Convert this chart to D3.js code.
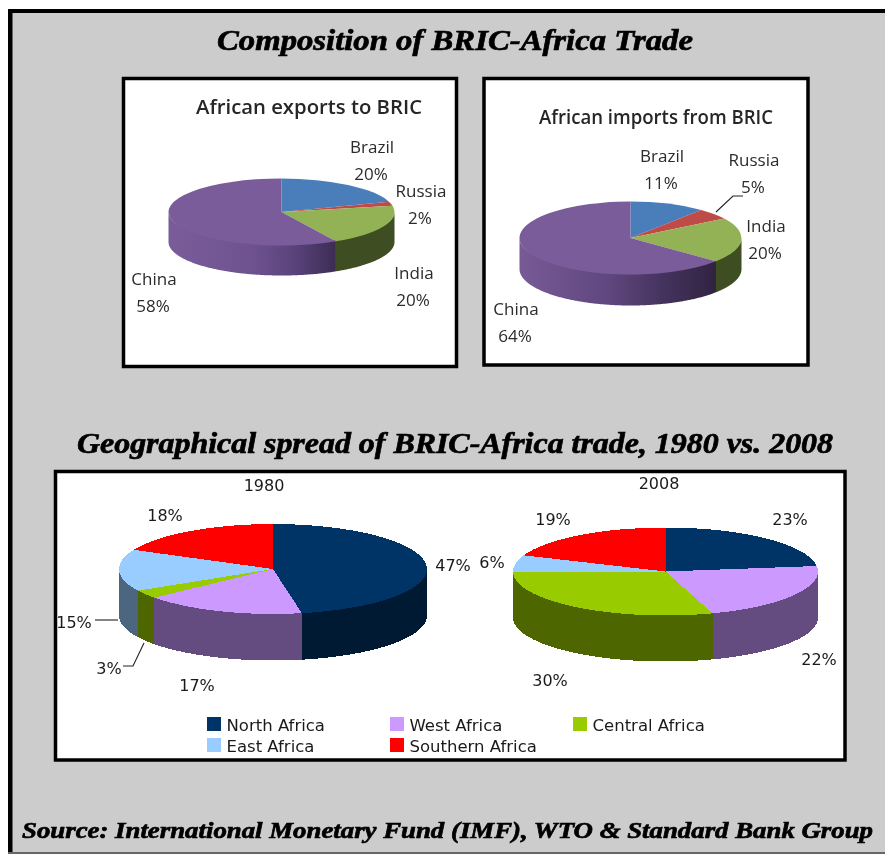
<!DOCTYPE html>
<html>
<head>
<meta charset="utf-8">
<script src="https://cdn.jsdelivr.net/npm/d3@7"></script>
<style>
html, body { margin: 0; padding: 0; background: #fff; }
svg { display: block; }
.heading { font-family: "Liberation Serif", serif; font-weight: bold; font-style: italic; fill: #000; stroke: #000; stroke-width: 0.7px; }
.top-label { font-family: "Open Sans", sans-serif; font-size: 17px; fill: #2b2b2b; text-anchor: middle; }
.top-title { font-family: "Open Sans", sans-serif; font-size: 20.5px; font-weight: 600; fill: #262626; }
.bottom-label { font-family: "DejaVu Sans", sans-serif; font-size: 16px; fill: #1a1a1a; text-anchor: middle; }
.legend-label { font-family: "DejaVu Sans", sans-serif; font-size: 16.5px; fill: #1a1a1a; }
.soft { filter: blur(0.45px); }
</style>
</head>
<body>
<div id="chart"></div>
<script>
// chart values
const bricNames = ["Brazil", "Russia", "India", "China"];
const exportShares = [20, 2, 20, 58];
const importShares = [11, 5, 20, 64];

const regionNames = ["North Africa", "West Africa", "Central Africa", "East Africa", "Southern Africa"];
const shares1980 = [47, 17, 3, 15, 18];
const shares2008 = [23, 22, 30, 6, 19];

// colours
const bricTop = ["#4A7EBB", "#BE4B48", "#93B255", "#7A5C9A"];
const bricSide = ["#2c4c70", "#72302e", "#3F4D22", "url(#GRAD)"];
const regionTop = ["#003366", "#CC99FF", "#99CC00", "#99CCFF", "#FF0000"];
const regionSide = ["#001A33", "#654C80", "#4D6600", "#4D6680", "#800000"];

const width = 885, height = 854;

const svg = d3.select("#chart").append("svg")
  .attr("width", width)
  .attr("height", height);

const defs = svg.append("defs");

/* page background and frames */
svg.append("rect").attr("x", 8).attr("y", 9).attr("width", width - 8).attr("height", height - 9).attr("fill", "#000");
svg.append("rect").attr("x", 12.5).attr("y", 13).attr("width", width - 12.5).attr("height", height - 15).attr("fill", "#CCCCCC");
svg.append("rect").attr("x", 8).attr("y", 852).attr("width", width - 8).attr("height", 2).attr("fill", "#666");

function box(x0, y0, x1, y1) {
  svg.append("rect")
    .attr("x", x0).attr("y", y0)
    .attr("width", x1 - x0).attr("height", y1 - y0)
    .attr("fill", "#fff").attr("stroke", "#000").attr("stroke-width", 3.5);
}
box(123.5, 78.5, 456.5, 366.5);
box(484, 78.5, 808, 365);
box(55.5, 471.5, 845, 760);

/* headings */
function heading(txt, x0, x1, y, size) {
  svg.append("text").attr("class", "heading soft")
    .attr("x", x0).attr("y", y)
    .attr("font-size", size + "px")
    .attr("textLength", x1 - x0)
    .attr("lengthAdjust", "spacingAndGlyphs")
    .text(txt);
}
heading("Composition of BRIC-Africa Trade", 217, 693, 50, 29);
heading("Geographical spread of BRIC-Africa trade, 1980 vs. 2008", 77, 833, 453, 29);
heading("Source: International Monetary Fund (IMF), WTO & Standard Bank Group", 22, 873, 838, 24);

/** Draw one 3D pie: side wall first, then the flat top */
function drawPie(values, tops, sides, o) {
  const g = svg.append("g")
    .attr("transform", "translate(" + o.cx + "," + o.cy + ")")
    .attr("shape-rendering", o.crisp ? "crispEdges" : "auto");

  const slices = d3.pie().sort(null).value(d => d)(values);

  // wall is visible only on the front half of the ellipse
  // its top edge tucks under the flat top so no white seam shows
  const wall = d3.area()
    .x(a => o.rx * Math.sin(a))
    .y0(a => -(o.ry - 1.5) * Math.cos(a))
    .y1(a => -o.ry * Math.cos(a) + o.depth);

  slices.forEach(function(s, i) {
    const a0 = Math.max(s.startAngle, Math.PI / 2);
    const a1 = Math.min(s.endAngle, 3 * Math.PI / 2);
    if (a1 <= a0) return;
    const angles = d3.range(a0, a1, 0.01).concat([a1]);
    g.append("path").attr("d", wall(angles)).attr("fill", sides[i]);
  });

  const arc = d3.arc().innerRadius(0).outerRadius(o.rx);
  g.append("g")
    .attr("transform", "scale(1," + (o.ry / o.rx) + ")")
    .selectAll("path").data(slices).enter().append("path")
    .attr("d", arc)
    .attr("fill", (d, i) => tops[i]);
}

/* gradients for the big purple walls */
function wallGradient(id, x0, x1, stops) {
  const lg = defs.append("linearGradient").attr("id", id)
    .attr("gradientUnits", "userSpaceOnUse")
    .attr("x1", x0).attr("x2", x1).attr("y1", 0).attr("y2", 0);
  stops.forEach(s => lg.append("stop").attr("offset", s[0]).attr("stop-color", s[1]));
}
wallGradient("wallExports", -113, 56, [[0, "#7A5C9A"], [0.5, "#6E5290"], [0.75, "#59427A"], [1, "#3B2C52"]]);
wallGradient("wallImports", -111, 86, [[0, "#775A96"], [0.45, "#60477F"], [0.75, "#43325C"], [1, "#30233F"]]);

drawPie(exportShares, bricTop, bricSide.map(c => c.replace("GRAD", "wallExports")),
  {cx: 281.5, cy: 212, rx: 113, ry: 33.5, depth: 30});
drawPie(importShares, bricTop, bricSide.map(c => c.replace("GRAD", "wallImports")),
  {cx: 630.5, cy: 238, rx: 111, ry: 36.5, depth: 31});
drawPie(shares1980, regionTop, regionSide,
  {cx: 273, cy: 569, rx: 154, ry: 45, depth: 46.5, crisp: true});
drawPie(shares2008, regionTop, regionSide,
  {cx: 665.5, cy: 571.5, rx: 152.5, ry: 44, depth: 46, crisp: true});

/* chart titles and labels */
function topTitle(txt, x0, x1, y) {
  svg.append("text").attr("class", "top-title soft")
    .attr("x", x0).attr("y", y)
    .attr("textLength", x1 - x0).attr("lengthAdjust", "spacingAndGlyphs")
    .text(txt);
}
topTitle("African exports to BRIC", 196, 422, 114);
topTitle("African imports from BRIC", 539, 773, 124);

function twoLine(name, value, x, y) {
  svg.append("text").attr("class", "top-label soft").attr("x", x).attr("y", y).text(name);
  svg.append("text").attr("class", "top-label soft").attr("x", x - 1).attr("y", y + 27).text(value + "%");
}
const exportLabelPos = [[372, 153], [421, 197], [414, 279], [154, 285]];
const importLabelPos = [[662, 162], [754, 166], [766, 232], [516, 315]];
bricNames.forEach(function(n, i) {
  twoLine(n, exportShares[i], exportLabelPos[i][0], exportLabelPos[i][1]);
  twoLine(n, importShares[i], importLabelPos[i][0], importLabelPos[i][1]);
});

function pctLabel(value, x, y) {
  svg.append("text").attr("class", "bottom-label soft").attr("x", x).attr("y", y).text(value + "%");
}
const pos1980 = [[453, 571], [197, 691], [109, 674], [74, 628], [165, 521]];
const pos2008 = [[790, 525], [819, 665], [550, 686], [492, 568], [553, 525]];
regionNames.forEach(function(n, i) {
  pctLabel(shares1980[i], pos1980[i][0], pos1980[i][1]);
  pctLabel(shares2008[i], pos2008[i][0], pos2008[i][1]);
});

svg.append("text").attr("class", "bottom-label soft").attr("x", 264).attr("y", 491).text("1980");
svg.append("text").attr("class", "bottom-label soft").attr("x", 659).attr("y", 489).text("2008");

/* leader lines */
const leader = d3.line();
[
  [[716, 212], [733, 196], [743, 196]],
  [[95, 620], [118, 620]],
  [[123, 666], [133, 666], [144, 643]]
].forEach(function(pts) {
  svg.append("path").attr("d", leader(pts))
    .attr("fill", "none").attr("stroke", "#222").attr("stroke-width", 1.1);
});

/* legend */
const legendPos = [[207, 731], [390, 731], [573, 731], [207, 752], [390, 752]];
regionNames.forEach(function(n, i) {
  svg.append("rect")
    .attr("x", legendPos[i][0]).attr("y", legendPos[i][1] - 14)
    .attr("width", 14).attr("height", 14)
    .attr("fill", regionTop[i]);
  svg.append("text").attr("class", "legend-label soft")
    .attr("x", legendPos[i][0] + 19.5).attr("y", legendPos[i][1])
    .text(n);
});
</script>
</body>
</html>
